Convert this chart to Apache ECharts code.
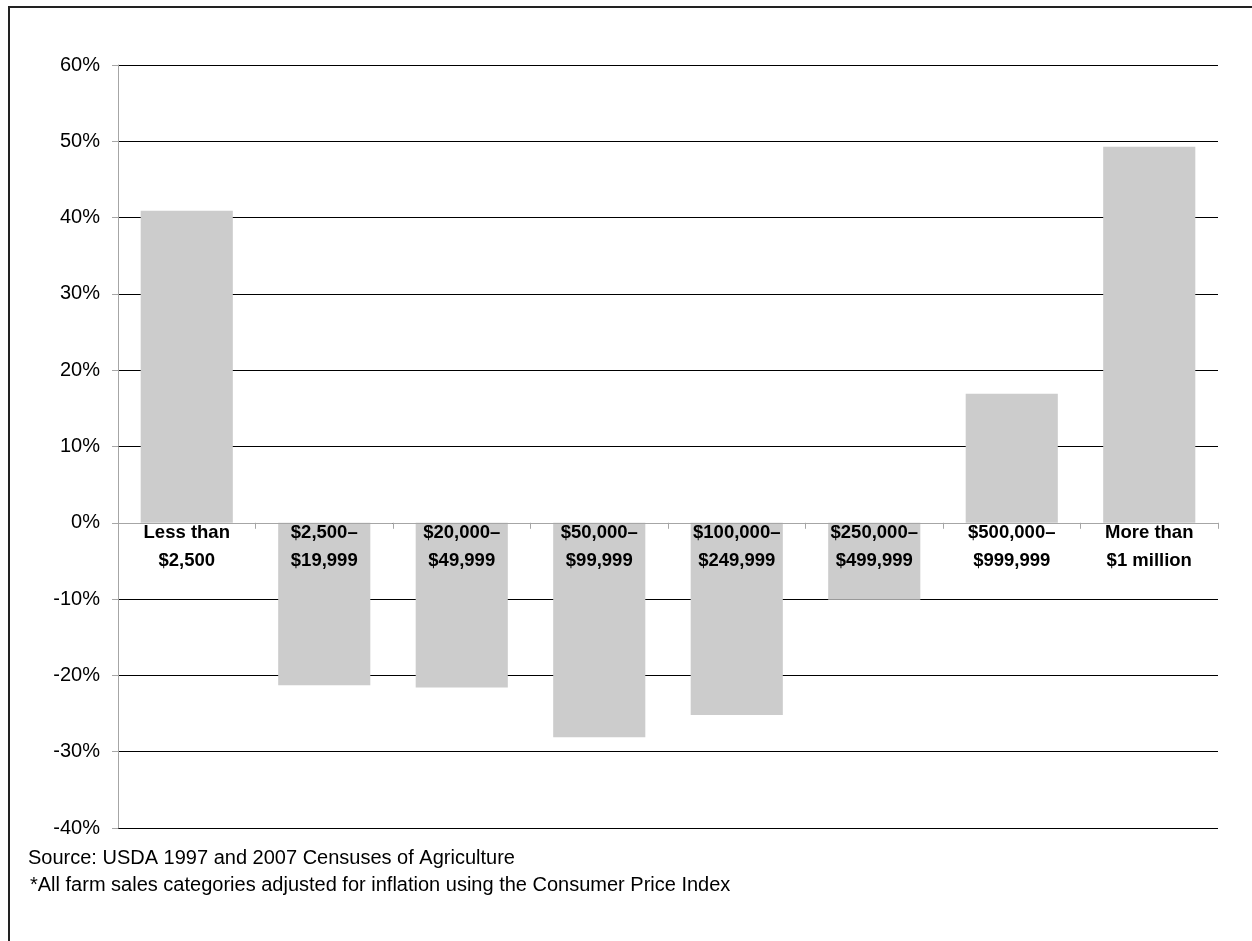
<!DOCTYPE html>
<html>
<head>
<meta charset="utf-8">
<script src="https://cdn.jsdelivr.net/npm/echarts@6/dist/echarts.min.js"></script>
<style>
  html, body { margin: 0; padding: 0; background: #fff; }
  #frame { position: absolute; left: 8px; top: 6px; width: 1244px; height: 935px;
           border-left: 2px solid #222; border-top: 2px solid #222; }
  #chart { position: absolute; left: 0; top: 0; width: 1252px; height: 941px; }
</style>
</head>
<body>
<div id="frame"></div>
<div id="chart"></div>
<script>
var categories = ['Less than\n$2,500', '$2,500–\n$19,999', '$20,000–\n$49,999', '$50,000–\n$99,999',
                  '$100,000–\n$249,999', '$250,000–\n$499,999', '$500,000–\n$999,999', 'More than\n$1 million'];
var changePct = [40.9, -21.3, -21.6, -28.1, -25.2, -10.1, 16.9, 49.3];
var labelAnchor = [0, 0, 0, 0, 0, 0, 0, 0];
var yTicks = { min: -40, max: 60, step: 10 };
var notes = ['Source: USDA 1997 and 2007 Censuses of Agriculture',
             '*All farm sales categories adjusted for inflation using the Consumer Price Index'];

var chart = echarts.init(document.getElementById('chart'));

var option = {
    animation: false,
    grid: {
        left: 118,
        right: 34,
        top: 65,
        bottom: 113
    },
    xAxis: {
        type: 'category',
        data: categories,
        axisLine: { onZero: true, lineStyle: { color: '#a6a6a6', width: 1 } },
        axisTick: { show: true, length: 6, lineStyle: { color: '#a6a6a6' } },
        axisLabel: { show: false },
        z: 10
    },
    yAxis: {
        type: 'value',
        min: yTicks.min,
        max: yTicks.max,
        interval: yTicks.step,
        axisLine: { show: true, lineStyle: { color: '#a6a6a6' } },
        axisTick: { show: true, length: 6, lineStyle: { color: '#a6a6a6' } },
        axisLabel: {
            margin: 18,
            color: '#000',
            fontFamily: 'Liberation Sans',
            fontSize: 20,
            formatter: '{value}%'
        },
        splitLine: { show: true, lineStyle: { color: '#000', width: 1 } }
    },
    series: [{
        type: 'bar',
        data: changePct,
        barWidth: '67%',
        itemStyle: { color: '#cccccc' },
        z: 2
    }, {
        // zero-height bars that carry the category labels just under the 0% line
        type: 'bar',
        data: labelAnchor,
        barWidth: '67%',
        barGap: '-100%',
        itemStyle: { color: 'transparent' },
        silent: true,
        z: 5,
        label: {
            show: true,
            position: 'bottom',
            distance: -4,
            color: '#000',
            fontFamily: 'Liberation Sans',
            fontWeight: 'bold',
            fontSize: 18.5,
            lineHeight: 28,
            formatter: function (p) { return categories[p.dataIndex]; }
        }
    }],
    graphic: [
        { type: 'text', left: 28, top: 848,
          style: { text: notes[0], font: '20px "Liberation Sans"', fill: '#000' } },
        { type: 'text', left: 30, top: 875,
          style: { text: notes[1], font: '20px "Liberation Sans"', fill: '#000' } }
    ]
};

chart.setOption(option);
</script>
</body>
</html>
